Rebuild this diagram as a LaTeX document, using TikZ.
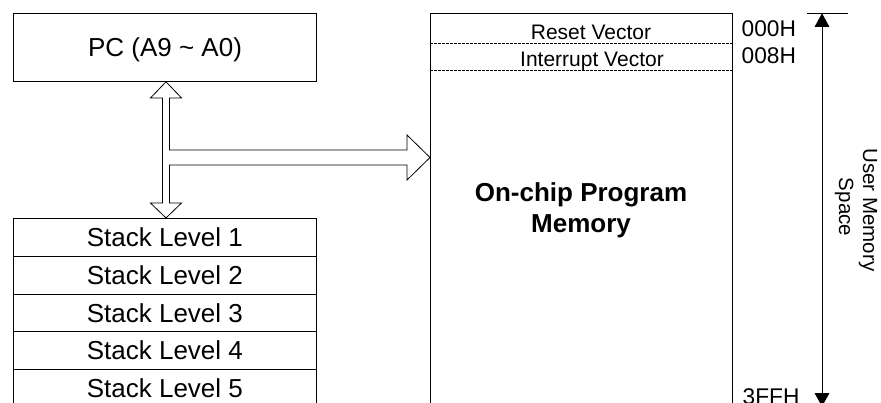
\documentclass[tikz,border=0pt]{standalone}
\usepackage{fontspec}
\setmainfont{Liberation Sans}
\begin{document}
\begin{tikzpicture}[x=1pt,y=-1pt,
  box/.style={draw, line width=0.8pt, inner sep=0pt, anchor=north west},
  big/.style={font=\fontsize{26}{29}\selectfont},
  addr/.style={font=\fontsize{22.7}{26}\selectfont, anchor=base west, inner sep=0pt},
  small/.style={font=\fontsize{21}{24}\selectfont, anchor=base, inner sep=0pt},
  boldtxt/.style={font=\fontsize{26}{30}\selectfont\bfseries, anchor=base, inner sep=0pt},
  vtxt/.style={font=\fontsize{20.5}{24}\selectfont, rotate=-90, anchor=base, inner sep=0pt},
  hollow/.style={draw, fill=white, line width=0.8pt, line join=miter},
  dashline/.style={dashed, dash pattern=on 2.5pt off 1.5pt, line width=0.5pt}]
\useasboundingbox (0,0) rectangle (881,403);
\clip (0,0) rectangle (881,403);
% PC box
\node[box, minimum width=303pt, minimum height=68pt] (pc) at (13,13) {};
\node[big, anchor=base, inner sep=0pt] (pctxt) at (165,56.3) {PC (A9 \textasciitilde{} A0)};
% stack
\foreach \i in {1,...,5}{
  \node[box, big, minimum width=303pt, minimum height=37.8pt] (s\i) at (13,{218+37.8*(\i-1)}) {Stack Level \i};
}
% memory box
\node[box, minimum width=302pt, minimum height=400pt] (mem) at (430,13) {};
\coordinate (d1l) at (430,43); \coordinate (d1r) at (732,43);
\coordinate (d2l) at (430,70); \coordinate (d2r) at (732,70);
\draw[dashline] (d1l) -- (d1r);
\draw[dashline] (d2l) -- (d2r);
\node[small] (rv) at (591,40) {Reset Vector};
\node[small] (iv) at (592,66.5) {Interrupt Vector};
\node[boldtxt] (ocp1) at (581,202) {On-chip Program};
\node[boldtxt] (ocp2) at (581,233) {Memory};
% addresses
\node[addr] (a0) at (741.5,36.5) {000H};
\node[addr] (a8) at (741.5,63.5) {008H};
\node[addr] (af) at (742.5,404.3) {3FFH};
% user memory arrow
\coordinate (tk1) at (807,13.3); \coordinate (tk2) at (848,13.3);
\draw[line width=0.7pt] (tk1) -- (tk2);
\coordinate (ut) at (822,13.3); \coordinate (ub) at (822,406.5);
\draw[line width=0.7pt] (822,26) -- (822,394);
\fill (ut) -- (829.5,27) -- (814.5,27) -- cycle;
\fill (ub) -- (829.5,393) -- (814.5,393) -- cycle;
\node[vtxt] (um1) at (863,210) {User Memory};
\node[vtxt] (um2) at (839,207) {Space};
% hollow arrows
\def\c{166}
\draw[hollow] (pc.south -| {\c},0) -- ({\c+15.5},98) -- ({\c+3.5},98) -- ({\c+3.5},150)
  -- (407,150) -- (407,135) -- (mem.west |- {0},157.5) -- (407,180) -- (407,165)
  -- ({\c+3.5},165) -- ({\c+3.5},203) -- ({\c+15.5},203) -- (s1.north -| {\c},0)
  -- ({\c-15.5},203) -- ({\c-3.5},203) -- ({\c-3.5},98) -- ({\c-15.5},98) -- cycle;
\end{tikzpicture}
\end{document}
